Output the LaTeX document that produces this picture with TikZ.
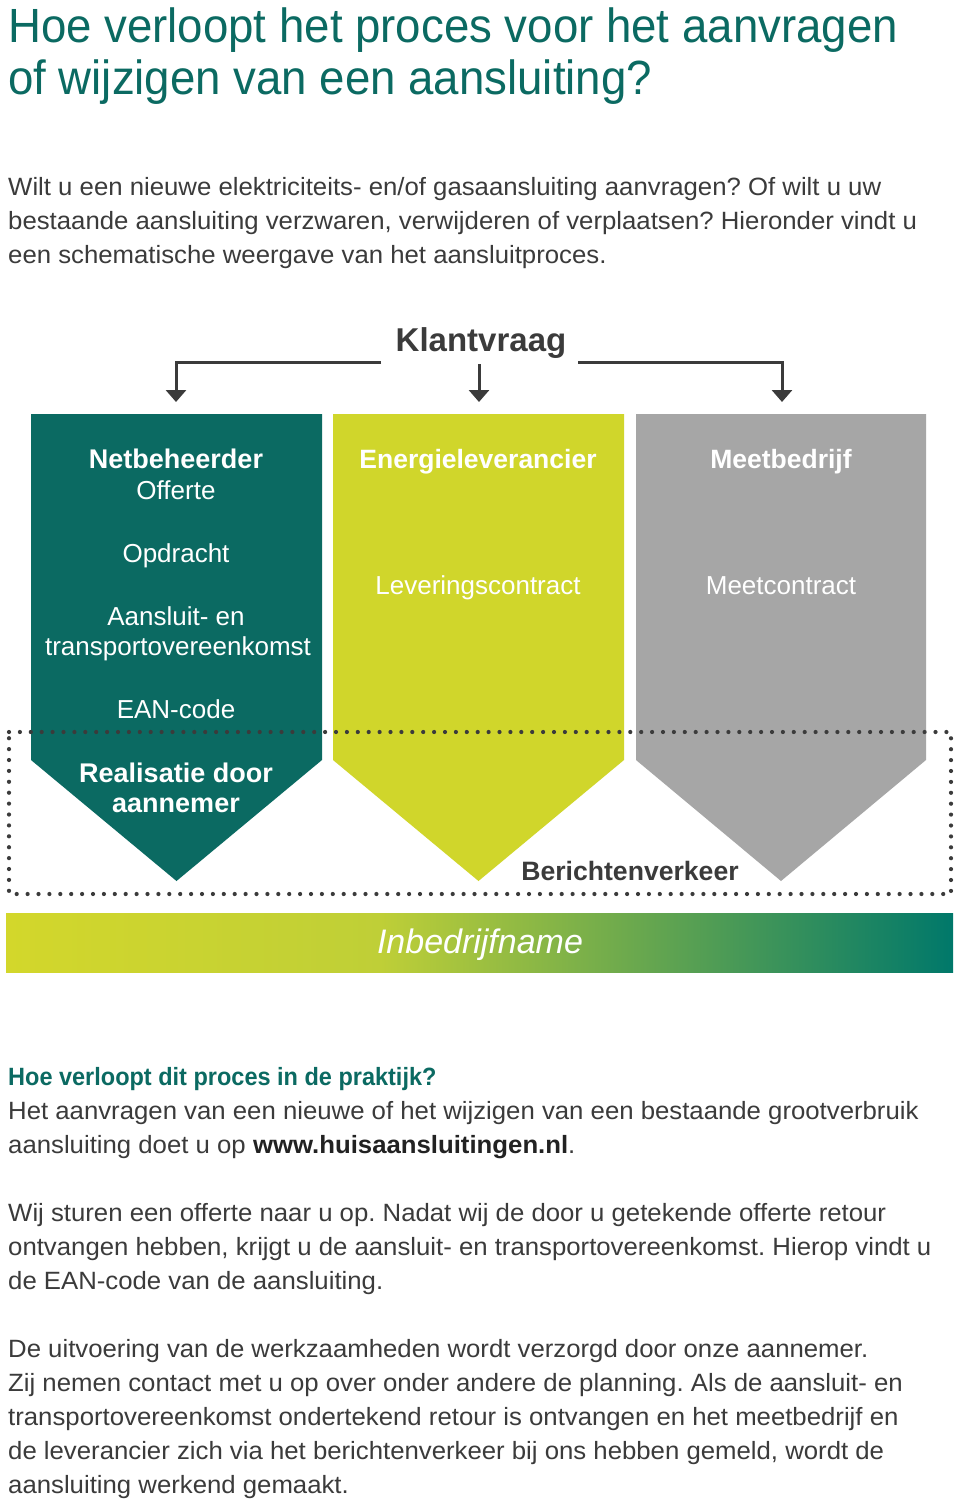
\documentclass[tikz,border=0pt]{standalone}
\usepackage{fontspec}
\setmainfont{Liberation Sans}
\newfontfamily\bodyf{Liberation Sans}[FakeStretch=1.03]
\newfontfamily\titlef{Liberation Sans}[FakeStretch=0.95]
\newfontfamily\headf{Liberation Sans}[FakeStretch=0.94]
\usetikzlibrary{arrows.meta}
\definecolor{cTeal}{HTML}{0B6A62}
\definecolor{cYel}{HTML}{D0D62B}
\definecolor{cGrey}{HTML}{A6A6A6}
\definecolor{cDark}{HTML}{3B3B3B}
\definecolor{cUrl}{HTML}{222222}
\definecolor{cGradL}{HTML}{D3D72B}
\definecolor{cGradM}{HTML}{BFCF37}
\definecolor{cGradR}{HTML}{00786A}
\frenchspacing
\tikzset{
  txt/.style={inner sep=0pt, anchor=base west, text=cDark, font=\bodyf\fontsize{25}{30}\selectfont},
  title/.style={inner sep=0pt, anchor=base west, text=cTeal, font=\titlef\fontsize{48}{52}\selectfont},
  boxtxt/.style={inner sep=0pt, anchor=base, text=white, font=\fontsize{26}{30}\selectfont},
  boxhead/.style={inner sep=0pt, anchor=base, text=white, font=\bfseries\fontsize{27}{30}\selectfont},
  boxheadc/.style={inner sep=0pt, anchor=base, text=white, font=\bfseries\fontsize{26.5}{30}\selectfont},
  boxtxtc/.style={inner sep=0pt, anchor=base, text=white, font=\fontsize{26}{30}\selectfont},
  conn/.style={draw=cDark, line width=3pt, -{Triangle[width=20pt,length=12pt]}},
  dots/.style={draw=cDark, line width=4.2pt, line cap=round, dash pattern=on 0pt off 10.9pt},
}
\begin{document}
\begin{tikzpicture}[x=1pt,y=-1pt]
\useasboundingbox (0,0) rectangle (960,1499);
\fill[white] (0,0) rectangle (960,1499);

% Title
\node[title] (t1) at (8,42) {Hoe verloopt het proces voor het aanvragen};
\node[title] (t2) at (8,94) {of wijzigen van een aansluiting?};

% Intro
\node[txt] (i1) at (8,195) {Wilt u een nieuwe elektriciteits- en/of gasaansluiting aanvragen? Of wilt u uw};
\node[txt] (i2) at (8,229) {bestaande aansluiting verzwaren, verwijderen of verplaatsen? Hieronder vindt u};
\node[txt] (i3) at (8,263) {een schematische weergave van het aansluitproces.};

% Klantvraag
\node[inner sep=0pt, anchor=base, text=cDark, font=\bfseries\fontsize{33}{36}\selectfont] (kv) at (481,351) {Klantvraag};
\coordinate (kvL) at (381,362);
\coordinate (kvC) at (479,364);
\coordinate (kvR) at (578,362);
\coordinate (aL) at (176,402);
\coordinate (aC) at (479,402);
\coordinate (aR) at (782,402);
\draw[conn] (kvL) -| (aL);
\draw[conn] (kvC) -- (aC);
\draw[conn] (kvR) -| (aR);

% Boxes
\fill[cTeal] (31,414) -- (322,414) -- (322,760) -- (176.5,881) -- (31,760) -- cycle;
\fill[cYel] (333,414) -- (624,414) -- (624,760) -- (478.5,881) -- (333,760) -- cycle;
\fill[cGrey] (636,414) -- (926,414) -- (926,760) -- (781,881) -- (636,760) -- cycle;

% Teal texts
\node[boxhead] (nb) at (176,468) {Netbeheerder};
\node[boxtxt] (of) at (176,499) {Offerte};
\node[boxtxt] (op) at (176,562) {Opdracht};
\node[boxtxt] (ae) at (176,625) {Aansluit- en};
\node[boxtxt] (tv) at (178,655) {transportovereenkomst};
\node[boxtxt] (ean) at (176,718) {EAN-code};
\node[boxhead] (re1) at (176,782) {Realisatie door};
\node[boxhead] (re2) at (176,812) {aannemer};

% Yellow texts
\node[boxheadc] (el) at (478,468) {Energieleverancier};
\node[boxtxtc] (lc) at (478,594) {Leveringscontract};

% Grey texts
\node[boxheadc] (mb) at (781,468) {Meetbedrijf};
\node[boxtxtc] (mc) at (781,594) {Meetcontract};

% Dotted frame
\draw[dots] (9,732) -- (951,732) -- (951,894) -- (9,894) -- cycle;

\node[inner sep=0pt, anchor=base, text=cDark, font=\bfseries\fontsize{26.6}{30}\selectfont] (bv) at (630,880) {Berichtenverkeer};

% Gradient bar
\shade[left color=cGradL, right color=cGradM] (6,913) rectangle (381,972);
\shade[left color=cGradM, right color=cGradR] (380,913) rectangle (953,972);
\node[inner sep=0pt, anchor=base, text=white, font=\itshape\fontsize{34}{36}\selectfont] (ib) at (480,953) {Inbedrijfname};

% Bottom text
\node[txt, text=cTeal, font=\headf\bfseries\fontsize{25}{30}\selectfont] (h2) at (8,1085) {Hoe verloopt dit proces in de praktijk?};
\node[txt] (b1) at (8,1119) {Het aanvragen van een nieuwe of het wijzigen van een bestaande grootverbruik};
\node[txt] (b2) at (8,1153) {aansluiting doet u op {\color{cUrl}\bfseries www.huisaansluitingen.nl}.};

\node[txt] (c1) at (8,1221) {Wij sturen een offerte naar u op. Nadat wij de door u getekende offerte retour};
\node[txt] (c2) at (8,1255) {ontvangen hebben, krijgt u de aansluit- en transportovereenkomst. Hierop vindt u};
\node[txt] (c3) at (8,1289) {de EAN-code van de aansluiting.};

\node[txt] (d1) at (8,1357) {De uitvoering van de werkzaamheden wordt verzorgd door onze aannemer.};
\node[txt] (d2) at (8,1391) {Zij nemen contact met u op over onder andere de planning. Als de aansluit- en};
\node[txt] (d3) at (8,1425) {transportovereenkomst ondertekend retour is ontvangen en het meetbedrijf en};
\node[txt] (d4) at (8,1459) {de leverancier zich via het berichtenverkeer bij ons hebben gemeld, wordt de};
\node[txt] (d5) at (8,1493) {aansluiting werkend gemaakt.};
\end{tikzpicture}
\end{document}
